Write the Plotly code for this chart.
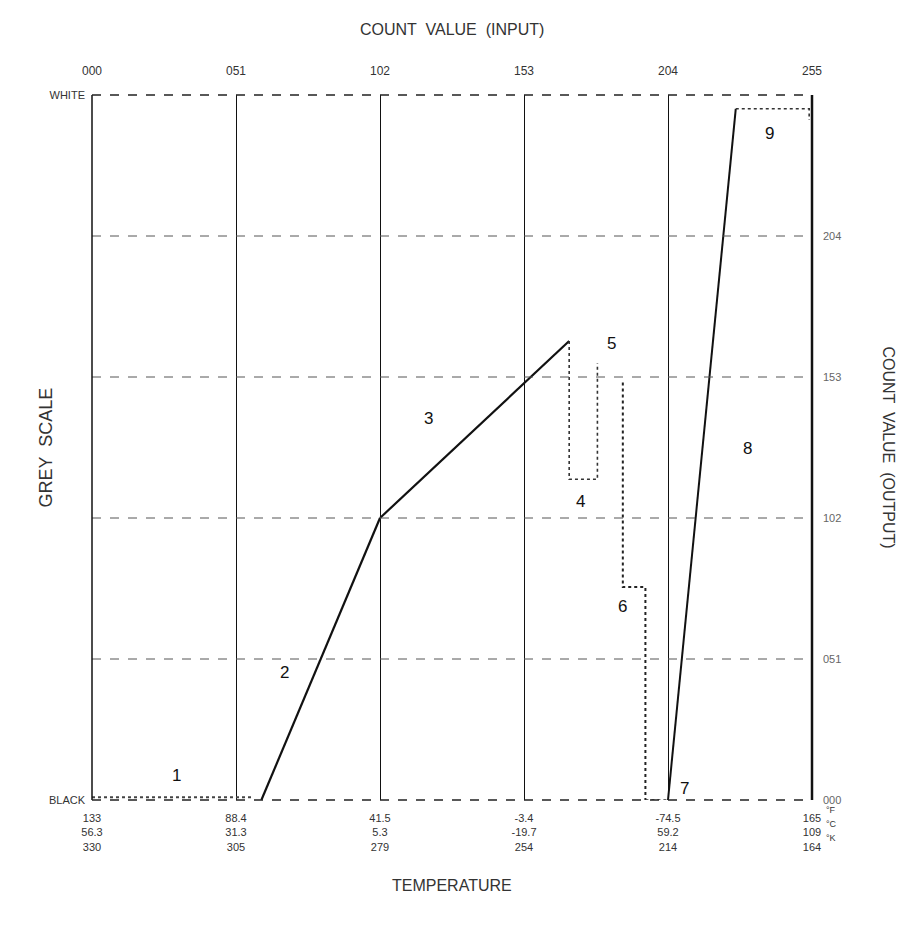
import plotly.graph_objects as go

# ---- data (count values, input -> output) ----
seg1_x = [0, 57]
seg1_y = [1, 1]
seg2_x = [60, 102]
seg2_y = [0, 102]
seg3_x = [102, 169]
seg3_y = [102, 166]
seg45_x = [169, 169, 179, 179]
seg45_y = [166, 116, 116, 158]
seg6_x = [188, 188, 196, 196]
seg6_y = [151, 77, 77, 0]
seg7_x = [196, 204]
seg7_y = [0, 0]
seg8_x = [204, 228]
seg8_y = [0, 250]
seg9_x = [228, 254, 254]
seg9_y = [250, 250, 246]

seg_labels = ["1", "2", "3", "4", "5", "6", "7", "8", "9"]
label_x = [30, 68, 119, 173, 184, 188, 210, 232, 240]
label_y = [9, 46, 138, 108, 165, 70, 4, 127, 241]

tick_vals = [0, 51, 102, 153, 204, 255]
top_ticks = ["000", "051", "102", "153", "204", "255"]
right_vals = [0, 51, 102, 153, 204]
right_ticks = ["000", "051", "102", "153", "204"]
temp_f = ["133", "88.4", "41.5", "-3.4", "-74.5", "165"]
temp_c = ["56.3", "31.3", "5.3", "-19.7", "59.2", "109"]
temp_k = ["330", "305", "279", "254", "214", "164"]
units = ["°F", "°C", "°K"]

FONT = "Liberation Sans"
TXT = "#333333"

fig = go.Figure()

def seg(x, y, width=2.2, dash="solid", color="#111111"):
    fig.add_trace(go.Scatter(x=x, y=y, mode="lines", xaxis="x", yaxis="y",
                             line=dict(color=color, width=width, dash=dash),
                             hoverinfo="skip", showlegend=False))

seg(seg1_x, seg1_y, width=2, dash="dot", color="#444444")
seg(seg2_x, seg2_y, width=2.2)
seg(seg3_x, seg3_y, width=2.2)
seg(seg45_x, seg45_y, width=1.6, dash="dot", color="#333333")
seg(seg6_x, seg6_y, width=2, dash="dot", color="#222222")
seg(seg7_x, seg7_y, width=1.5, dash="dot", color="#333333")
seg(seg8_x, seg8_y, width=2)
seg(seg9_x, seg9_y, width=1.6, dash="dot", color="#333333")

# invisible trace to activate the extra axes
fig.add_trace(go.Scatter(x=[0, 255], y=[0, 255], mode="markers", xaxis="x2", yaxis="y2",
                         marker=dict(opacity=0), hoverinfo="skip", showlegend=False))

for t, xx, yy in zip(seg_labels, label_x, label_y):
    fig.add_annotation(x=xx, y=yy, xref="x", yref="y", text=t, showarrow=False,
                       font=dict(family=FONT, size=17, color="#111111"))

bottom_text = [f"{f}<br>{c}<br>{k}" for f, c, k in zip(temp_f, temp_c, temp_k)]

fig.update_layout(
    width=915, height=930,
    margin=dict(l=92, r=103, t=95, b=130),
    plot_bgcolor="white", paper_bgcolor="white",
    font=dict(family=FONT, color=TXT, size=12),
    xaxis=dict(range=[0, 255], side="top", tickvals=tick_vals, ticktext=top_ticks,
               showgrid=True, gridcolor="#111111", gridwidth=1.3, griddash="solid",
               zeroline=False, showline=False, ticks="", ticklabelstandoff=17,
               tickfont=dict(size=12, color=TXT)),
    yaxis=dict(range=[0, 255], tickvals=[0, 255], ticktext=["BLACK", "WHITE"],
               showgrid=False, zeroline=False, showline=False, ticks="",
               ticklabelstandoff=6, tickfont=dict(size=11, color=TXT)),
    xaxis2=dict(range=[0, 255], overlaying="x", side="bottom", tickvals=tick_vals,
                ticktext=bottom_text, showgrid=False, zeroline=False, showline=False,
                ticks="", ticklabelstandoff=10, tickfont=dict(size=11, color=TXT)),
    yaxis2=dict(range=[0, 255], overlaying="y", side="right", tickvals=right_vals,
                ticktext=right_ticks, showgrid=False, zeroline=False, showline=False,
                ticks="", ticklabelstandoff=10, tickfont=dict(size=11, color="#666666")),
)

# axis titles
fig.add_annotation(x=0.5, y=1, xref="paper", yref="paper", yshift=66, yanchor="middle",
                   text="COUNT  VALUE  (INPUT)", showarrow=False,
                   font=dict(size=16, color=TXT))
fig.add_annotation(x=0, y=0.5, xref="paper", yref="paper", xshift=-47, xanchor="center",
                   text="GREY  SCALE", textangle=-90, showarrow=False,
                   font=dict(size=18, color=TXT))
fig.add_annotation(x=1, y=0.5, xref="paper", yref="paper", xshift=76, xanchor="center",
                   text="COUNT  VALUE  (OUTPUT)", textangle=90, showarrow=False,
                   font=dict(size=16, color=TXT))
fig.add_annotation(x=0.5, y=0, xref="paper", yref="paper", yshift=-85, yanchor="middle",
                   text="TEMPERATURE", showarrow=False,
                   font=dict(size=16, color=TXT))

# horizontal dashed grid lines
for v in [51, 102, 153, 204]:
    fig.add_shape(type="line", xref="paper", yref="y", x0=0, x1=1, y0=v, y1=v,
                  line=dict(color="#555555", width=1, dash="dash"))

# frame
fig.add_shape(type="line", xref="paper", yref="paper", x0=0, x1=0, y0=0, y1=1,
              line=dict(color="#111111", width=1.5))
fig.add_shape(type="line", xref="paper", yref="paper", x0=1, x1=1, y0=0, y1=1,
              line=dict(color="#111111", width=2.5))
fig.add_shape(type="line", xref="paper", yref="paper", x0=0, x1=1, y0=1, y1=1,
              line=dict(color="#222222", width=1.5, dash="dash"))
fig.add_shape(type="line", xref="paper", yref="paper", x0=0, x1=1, y0=0, y1=0,
              line=dict(color="#222222", width=1.5, dash="dash"))

# unit letters next to last temperature column
for i, u in enumerate(units):
    fig.add_annotation(x=1, xref="paper", xanchor="left", xshift=12,
                       y=0, yref="paper", yshift=-17 - 14 * i, text=u, showarrow=False,
                       font=dict(size=9, color=TXT))

fig.write_html("out.html")
